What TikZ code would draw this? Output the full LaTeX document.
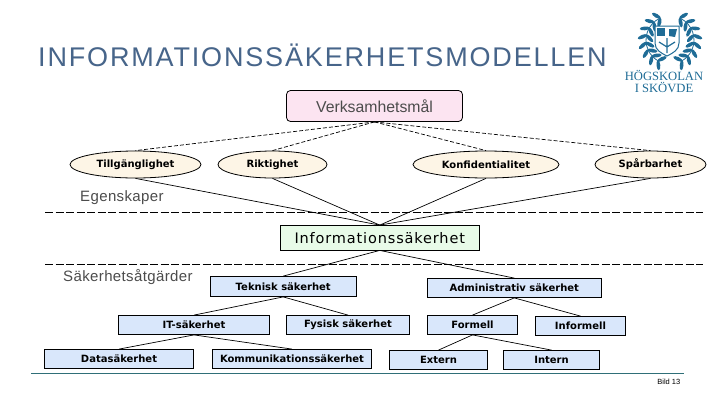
\documentclass[tikz,border=0pt]{standalone}
\usepackage{fontspec}
\setmainfont{Liberation Sans}
\newfontfamily\vfont{DejaVu Sans}
\newfontfamily\sfont{Liberation Serif}
\definecolor{titlecol}{HTML}{47658A}
\definecolor{teal1}{HTML}{2F6F78}
\definecolor{logoc}{HTML}{1F6C96}
\definecolor{pinkf}{HTML}{FCE4F1}
\definecolor{creamf}{HTML}{FDF5E6}
\definecolor{greenf}{HTML}{E8FBE8}
\definecolor{bluef}{HTML}{D9E7FB}
\tikzset{
  x=1pt,y=-1pt,
  goal/.style={draw=black,line width=0.8pt,fill=pinkf,rounded corners=4pt,inner sep=0,font=\fontsize{15.8}{18}\selectfont,text=black!70},
  prop/.style={ellipse,draw=black,line width=0.8pt,fill=creamf,inner sep=0,font=\vfont\bfseries\fontsize{10}{12}\selectfont},
  core/.style={draw=black,line width=0.8pt,fill=greenf,inner sep=0,font=\vfont\fontsize{14.5}{16}\selectfont\addfontfeatures{LetterSpace=5.9}},
  sec/.style={draw=black,line width=0.8pt,fill=bluef,inner sep=0,font=\vfont\bfseries\fontsize{10}{12}\selectfont},
  dashlink/.style={line width=0.7pt,dash pattern=on 4pt off 2pt},
  link/.style={line width=0.7pt},
  divider/.style={line width=0.8pt,dash pattern=on 8pt off 2.5pt},
  caption/.style={inner sep=0,font=\fontsize{15}{18}\selectfont\addfontfeatures{LetterSpace=2.5},text=black!70},
  leaf/.style={fill=logoc,draw=none},
}
\usetikzlibrary{shapes.geometric}
\newcommand{\nd}[7]{\node[#1,minimum width=#5-#3,minimum height=#6-#4] (#2) at ({(#3+#5)/2},{(#4+#6)/2}) {#7};}
\begin{document}
\begin{tikzpicture}
\useasboundingbox (0,0) rectangle (720,405);
\fill[white] (0,0) rectangle (720,405);
\node[anchor=west,inner sep=0,text=titlecol,font=\fontsize{27}{32}\selectfont\addfontfeatures{LetterSpace=6.8}] (title) at (38,55) {INFORMATIONSSÄKERHETSMODELLEN};

% logo
\foreach \s in {-1,1}{
  \begin{scope}[shift={(670,40)},xscale=\s]
    \draw[logoc,line width=0.8pt] (-65:24) arc[start angle=-65,end angle=62,radius=24];
    \foreach \a in {-60,-42,...,66}{
      \begin{scope}[rotate=\a,shift={(24,0)}]
        \fill[leaf,rotate=-35] (4.5,0) ellipse [x radius=5,y radius=1.9];
        \fill[leaf,rotate=-145] (4.5,0) ellipse [x radius=5,y radius=1.9];
      \end{scope}
    }
  \end{scope}
}
\path[fill=white,draw=logoc,line width=1pt] (655,26) -- (679,26) -- (679,43) .. controls (679,50) and (673,53) .. (667,56) .. controls (661,53) and (655,50) .. (655,43) -- cycle;
\fill[logoc] (657,28) rectangle (665,36);
\fill[logoc] (669,29) -- (677,29) -- (675,37) -- (669,36) -- cycle;
\draw[logoc,line width=1.2pt] (667,38) -- (667,53) (659,42) -- (667,47) -- (675,42);
\node[inner sep=0,text=logoc,font=\sfont\fontsize{12.6}{15}\selectfont] (logoa) at (664,75.5) {HÖGSKOLAN};
\node[inner sep=0,text=logoc,font=\sfont\fontsize{12.6}{15}\selectfont] (logob) at (664,87.5) {I SKÖVDE};

% dividers
\coordinate (d1a) at (45,212); \coordinate (d1b) at (703,212);
\coordinate (d2a) at (45,264.5); \coordinate (d2b) at (703,264.5);
\draw[divider] (d1a) -- (d1b);
\draw[divider] (d2a) -- (d2b);
\coordinate (fa) at (31,373.5); \coordinate (fb) at (684,373.5);
\draw[teal1,line width=0.8pt] (fa) -- (fb);

\nd{goal}{vm}{286.5}{90.5}{462.5}{121.5}{Verksamhetsmål}
\nd{prop}{ti}{70}{151}{201}{178}{Tillgänglighet}
\nd{prop}{ri}{218}{151}{327}{178}{Riktighet}
\nd{prop}{ko}{413}{151}{559}{178}{Konfidentialitet}
\nd{prop}{sp}{595}{151}{706}{178}{Spårbarhet}
\nd{core}{is}{280.5}{225.5}{479}{250}{Informationssäkerhet}
\nd{sec}{te}{210.5}{276.5}{356}{296.5}{Teknisk säkerhet}
\nd{sec}{ad}{427.5}{278.5}{601}{297.5}{Administrativ säkerhet}
\nd{sec}{it}{118.5}{315.5}{269.5}{334.5}{IT-säkerhet}
\nd{sec}{fy}{286.5}{315.5}{409.5}{334.5}{Fysisk säkerhet}
\nd{sec}{fo}{427.5}{315.5}{517.5}{334.5}{Formell}
\nd{sec}{in}{535.5}{316.5}{625.5}{335.5}{Informell}
\nd{sec}{da}{44.5}{349.5}{193.5}{368.5}{Datasäkerhet}
\nd{sec}{ku}{212.5}{349.5}{371.5}{368.5}{Kommunikationssäkerhet}
\nd{sec}{ex}{389.5}{350.5}{487.5}{369.5}{Extern}
\nd{sec}{nt}{503.5}{350.5}{599.5}{369.5}{Intern}

\foreach \t in {ti,ri,ko,sp}{
  \draw[dashlink] (vm.south) -- (\t.north);
  \draw[link] (\t.south) -- (is.north);
}
\draw[link] (is.south) -- (te.north);
\draw[link] (is.south) -- (ad.north);
\draw[link] (te.south) -- (it.north);
\draw[link] (te.south) -- (fy.north);
\draw[link] (it.south) -- (da.north);
\draw[link] (it.south) -- (ku.north);
\draw[link] (ad.south) -- (fo.north);
\draw[link] (ad.south) -- (in.north);
\draw[link] (fo.south) -- (ex.north);
\draw[link] (fo.south) -- (nt.north);

\node[caption,anchor=west] (eg) at (80,198) {Egenskaper};
\node[caption,anchor=west] (sa) at (63,277) {Säkerhetsåtgärder};
\node[inner sep=0,anchor=east,font=\fontsize{7.5}{9}\selectfont] (bild) at (680.5,382) {Bild 13};
\end{tikzpicture}
\end{document}
